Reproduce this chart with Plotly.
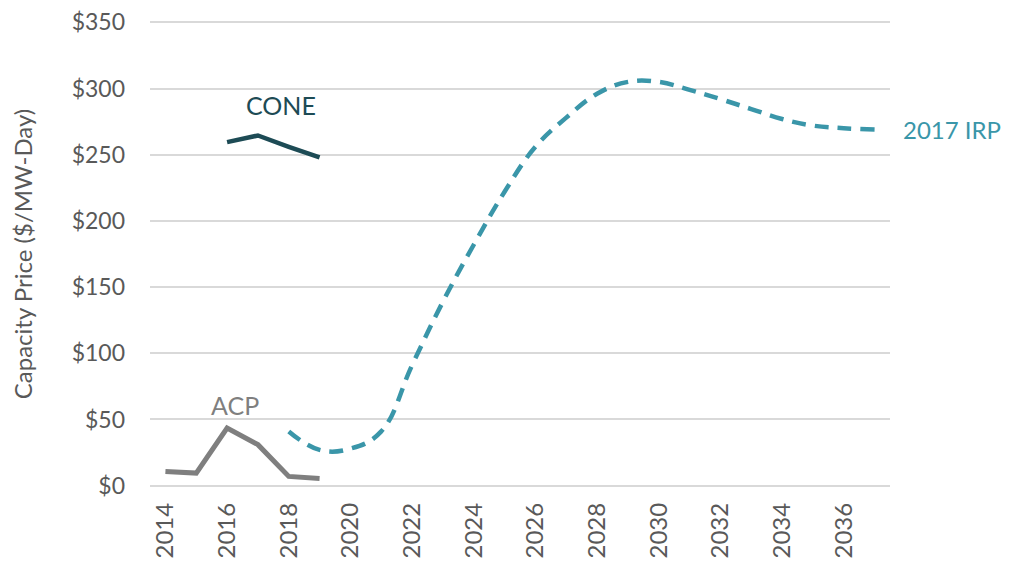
import plotly.graph_objects as go

years = [str(y) for y in range(2014, 2038)]
acp_years = ["2014", "2015", "2016", "2017", "2018", "2019"]
acp_values = [10.8, 9.5, 43.5, 31, 7, 5.5]
cone_years = ["2016", "2017", "2018", "2019"]
cone_values = [259.5, 264.5, 256, 248]
irp_years = [str(y) for y in range(2018, 2038)]
irp_values = [41, 27, 28, 41, 91, 139, 182, 222, 256, 278, 296, 305, 305, 299,
              292, 284.5, 277, 272, 270, 269]
tick_years = [str(y) for y in range(2014, 2037, 2)]
y_ticks = [0, 50, 100, 150, 200, 250, 300, 350]
y_ticktext = ["$" + str(v) for v in y_ticks]

FONT = "Lato, Open Sans, sans-serif"

fig = go.Figure()
fig.add_trace(go.Scatter(x=acp_years, y=acp_values, mode="lines",
                         line=dict(color="#7f7f7f", width=5), name="ACP"))
fig.add_trace(go.Scatter(x=cone_years, y=cone_values, mode="lines",
                         line=dict(color="#1d4b55", width=4.5), name="CONE"))
fig.add_trace(go.Scatter(x=irp_years, y=irp_values, mode="lines",
                         line=dict(color="#3a96a9", width=4.5, shape="spline",
                                   smoothing=1.15, dash="14px,9px"),
                         name="2017 IRP"))

fig.add_annotation(x=3.76, y=287.5, xref="x", yref="y", text="CONE", showarrow=False,
                   font=dict(family=FONT, size=25, color="#1d4b55"))
fig.add_annotation(x=2.27, y=61, xref="x", yref="y", text="ACP", showarrow=False,
                   font=dict(family=FONT, size=25, color="#7f7f7f"))
fig.add_annotation(x=1.015, y=268.7, xref="paper", yref="y", text="2017 IRP",
                   showarrow=False, xanchor="left",
                   font=dict(family=FONT, size=24, color="#3a96a9"))

fig.update_layout(
    width=1013, height=565,
    margin=dict(l=142, r=131, t=13, b=86),
    plot_bgcolor="white", paper_bgcolor="white",
    showlegend=False,
    font=dict(family=FONT, size=24, color="#595959"),
    xaxis=dict(type="category", categoryorder="array", categoryarray=years,
               range=[-0.5, 23.5], tickmode="array", tickvals=tick_years,
               ticktext=tick_years, tickangle=-90, showgrid=False,
               showline=False, ticks="", zeroline=False, automargin=False,
               ticklabelstandoff=10, ticklabeloverflow="allow",
               tickfont=dict(size=24, color="#595959")),
    yaxis=dict(range=[-1, 351], tickmode="array", tickvals=y_ticks,
               ticktext=y_ticktext, showgrid=True, gridcolor="#d9d9d9", gridwidth=2,
               zeroline=False, showline=False, ticks="", ticklabelstandoff=24,
               automargin=False, ticklabeloverflow="allow",
               title=dict(text="Capacity Price ($/MW-Day)", standoff=32,
                          font=dict(size=24, color="#595959")),
               tickfont=dict(size=23, color="#595959")),
)

fig.write_html("out.html")
